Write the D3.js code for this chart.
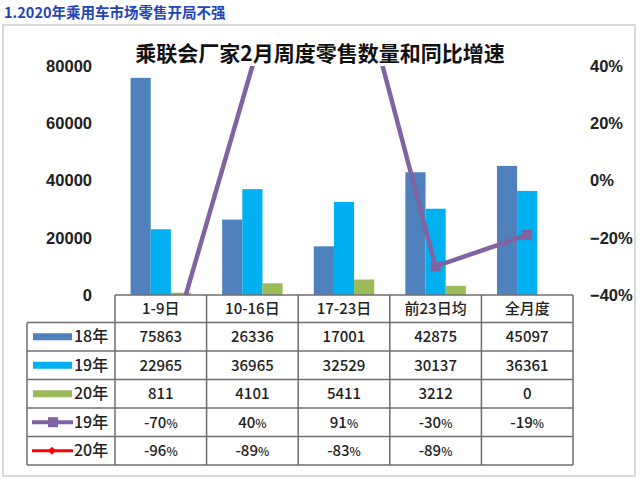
<!DOCTYPE html>
<html><head><meta charset="utf-8">
<script src="https://cdn.jsdelivr.net/npm/d3@7"></script>
<style>
html,body{margin:0;padding:0;background:#fff;}
svg{display:block;}
text{font-family:"Liberation Sans","Noto Sans CJK SC",sans-serif;}
.tt{font-family:"Noto Sans CJK SC","Liberation Sans",sans-serif;font-weight:500;}
</style></head><body>
<svg id="c" width="640" height="480"></svg>
<script>
const categories = ["1-9日","10-16日","17-23日","前23日均","全月度"];
const barSeries = ["18年","19年","20年"];
const s18 = [75863,26336,17001,42875,45097];
const s19 = [22965,36965,32529,30137,36361];
const s20 = [811,4101,5411,3212,0];
const g19 = [-0.70,0.40,0.91,-0.30,-0.19];
const g20 = [-0.96,-0.89,-0.83,-0.89,null];
const leftTicks = [0,20000,40000,60000,80000];
const rightTicks = [-0.4,-0.2,0,0.2,0.4];

const barColors = {"18年":"#4F81BD","19年":"#00B0F0","20年":"#9BBB59"};
const c19 = "#8064A2", c20 = "#FF0000";

const svg = d3.select("#c");
const L = 115, R = 573, T = 66, B = 295;

// outer border & title
svg.append("rect").attr("x",3).attr("y",25).attr("width",632).attr("height",451)
  .attr("fill","none").attr("stroke","#d9d9d9").attr("stroke-width",2);
svg.append("text").attr("x",4).attr("y",18).attr("font-size",14.5).attr("font-weight","bold")
  .attr("fill","#1f45b8").style("font-family","'Noto Sans CJK SC',sans-serif")
  .text("1.2020年乘用车市场零售开局不强");
svg.append("text").attr("x",320).attr("y",61).attr("text-anchor","middle")
  .attr("font-size",21).attr("font-weight","bold").attr("fill","#111")
  .style("font-family","'Noto Sans CJK SC',sans-serif")
  .text("乘联会厂家2月周度零售数量和同比增速");

const x = d3.scaleBand().domain(categories).range([L,R]);
const xs = d3.scaleBand().domain(barSeries).range([x.bandwidth()*0.17, x.bandwidth()*0.83]);
const yL = d3.scaleLinear().domain([0,80000]).range([B,T]);
const yR = d3.scaleLinear().domain([-0.4,0.4]).range([B,T]);

// axes
const ax = svg.append("g").attr("transform",`translate(100,0)`)
  .call(d3.axisLeft(yL).tickValues(leftTicks).tickSize(0).tickPadding(8).tickFormat(d3.format("d")));
ax.select(".domain").remove();
ax.selectAll("text").attr("font-size",16.5).attr("font-weight","bold").attr("fill","#222")
  .style("font-family","'Liberation Sans',sans-serif");
const ar = svg.append("g").attr("transform",`translate(584,0)`)
  .call(d3.axisRight(yR).tickValues(rightTicks).tickSize(0).tickPadding(6).tickFormat(d3.format(".0%")));
ar.select(".domain").remove();
ar.selectAll("text").attr("font-size",16.5).attr("font-weight","bold").attr("fill","#222")
  .style("font-family","'Liberation Sans',sans-serif");

// bars
const barData = [];
categories.forEach((c,i)=>{
  barData.push({c, s:"18年", v:s18[i]});
  barData.push({c, s:"19年", v:s19[i]});
  barData.push({c, s:"20年", v:s20[i]});
});
svg.append("g").selectAll("rect").data(barData).join("rect")
  .attr("x",d=>x(d.c)+xs(d.s)).attr("width",xs.bandwidth())
  .attr("y",d=>yL(d.v)).attr("height",d=>yL(0)-yL(d.v))
  .attr("fill",d=>barColors[d.s]);

// lines, clipped
svg.append("clipPath").attr("id","pc").append("rect")
  .attr("x",L).attr("y",T).attr("width",R-L).attr("height",B-T);
const lg = svg.append("g").attr("clip-path","url(#pc)");
const line = d3.line().defined(d=>d.v!=null).x(d=>x(d.c)+x.bandwidth()/2).y(d=>yR(d.v));
const d19 = categories.map((c,i)=>({c,v:g19[i]}));
const d20 = categories.map((c,i)=>({c,v:g20[i]}));
lg.append("path").datum(d20).attr("d",line).attr("fill","none").attr("stroke",c20).attr("stroke-width",3);
lg.append("path").datum(d19).attr("d",line).attr("fill","none").attr("stroke",c19).attr("stroke-width",4.5);
const inside = d=>d.v!=null && d.v>-0.4 && d.v<0.4;
lg.selectAll("rect.m").data(d19.filter(inside)).join("rect").attr("class","m")
  .attr("x",d=>x(d.c)+x.bandwidth()/2-5).attr("y",d=>yR(d.v)-5)
  .attr("width",10).attr("height",10).attr("fill",c19);

// table
const tableL = 27;
const headH = 27.5, rowH = 28.5;
const rows = [
  {label:"18年", type:"bar", color:barColors["18年"], vals:s18.map(String)},
  {label:"19年", type:"bar", color:barColors["19年"], vals:s19.map(String)},
  {label:"20年", type:"bar", color:barColors["20年"], vals:s20.map(String)},
  {label:"19年", type:"sq", color:c19, vals:g19.map(v=>v==null?"":Math.round(v*100)+"")},
  {label:"20年", type:"dia", color:c20, vals:g20.map(v=>v==null?"":Math.round(v*100)+"")}
];
const tg = svg.append("g");
const stroke = "#6f6f6f";
const tBottom = B + headH + rows.length*rowH;
tg.append("line").attr("x1",L).attr("x2",R).attr("y1",B).attr("y2",B).attr("stroke",stroke).attr("stroke-width",1.5);
for(let k=0;k<=rows.length;k++){
  const yy = B+headH+k*rowH;
  tg.append("line").attr("x1",tableL).attr("x2",R).attr("y1",yy).attr("y2",yy).attr("stroke",stroke).attr("stroke-width",1.5);
}
tg.append("line").attr("x1",tableL).attr("x2",tableL).attr("y1",B+headH).attr("y2",tBottom).attr("stroke",stroke).attr("stroke-width",1.5);
categories.forEach(c=>{
  tg.append("line").attr("x1",x(c)).attr("x2",x(c)).attr("y1",B).attr("y2",tBottom).attr("stroke",stroke).attr("stroke-width",1.5);
});
tg.append("line").attr("x1",R).attr("x2",R).attr("y1",B).attr("y2",tBottom).attr("stroke",stroke).attr("stroke-width",1.5);
tg.selectAll("text.h").data(categories).join("text").attr("class","h tt")
  .attr("x",c=>x(c)+x.bandwidth()/2).attr("y",B+headH/2+5.5).attr("text-anchor","middle")
  .attr("font-size",15).attr("fill","#222").text(c=>c);
rows.forEach((r,k)=>{
  const cy = B+headH+k*rowH+rowH/2;
  if(r.type==="bar"){
    tg.append("rect").attr("x",33).attr("y",cy-3.5).attr("width",39).attr("height",7).attr("fill",r.color);
  } else {
    tg.append("line").attr("x1",32).attr("x2",73).attr("y1",cy).attr("y2",cy).attr("stroke",r.color).attr("stroke-width",r.type==="sq"?4:3);
    if(r.type==="sq") tg.append("rect").attr("x",48).attr("y",cy-5).attr("width",10).attr("height",10).attr("fill",r.color);
    else tg.append("path").attr("d",d3.symbol(d3.symbolDiamond2,40)()).attr("transform",`translate(52,${cy})`).attr("fill",r.color);
  }
  tg.append("text").attr("class","tt").attr("x",74).attr("y",cy+5.5).attr("font-size",16).attr("fill","#222").text(r.label);
  r.vals.forEach((v,i)=>{
    const t = tg.append("text").attr("class","tt").attr("x",x(categories[i])+x.bandwidth()/2).attr("y",cy+5.5)
      .attr("text-anchor","middle").attr("font-size",15).attr("fill","#222");
    if(r.type==="bar") t.text(v);
    else if(v!==""){ t.append("tspan").text(v); t.append("tspan").attr("font-size",12).text("%"); }
  });
});
</script>
</body></html>
